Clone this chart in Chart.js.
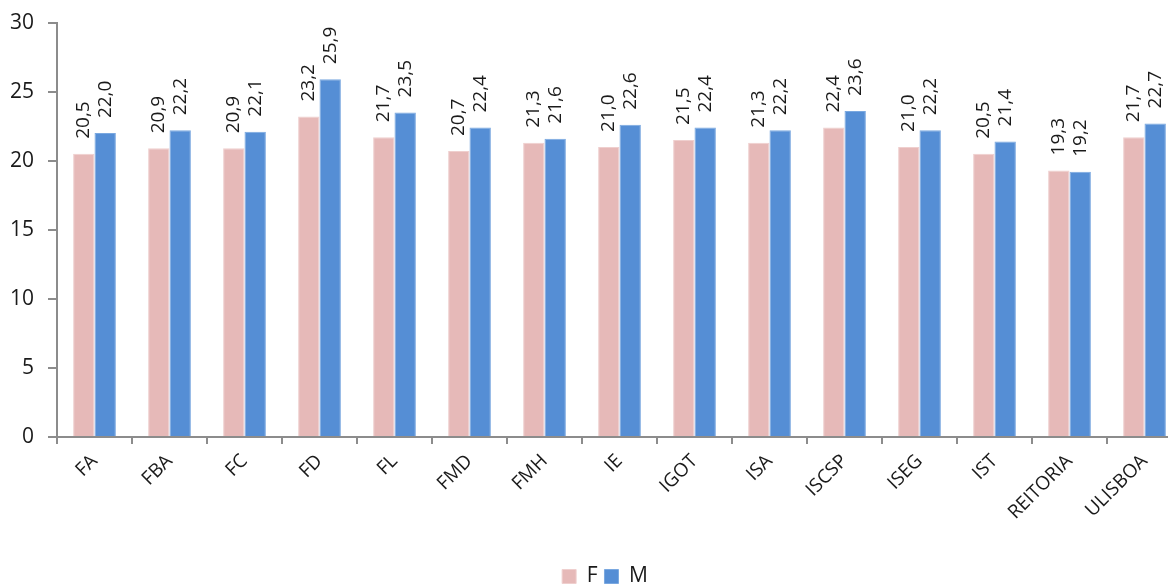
<!DOCTYPE html>
<html>
<head>
<meta charset="utf-8">
<script src="https://cdn.jsdelivr.net/npm/chart.js@4.4.1/dist/chart.umd.min.js"></script>
<style>
  html, body { margin: 0; padding: 0; background: #fff; overflow: hidden; }
  canvas { display: block; margin-top: -4px; }
</style>
</head>
<body>
<canvas id="chart" width="1186" height="601"></canvas>
<script>
// categorias (unidades)
const categories = ['FA', 'FBA', 'FC', 'FD', 'FL', 'FMD', 'FMH', 'IE', 'IGOT', 'ISA', 'ISCSP', 'ISEG', 'IST', 'REITORIA', 'ULISBOA'];
// valores por sexo
const valuesF = [20.5, 20.9, 20.9, 23.2, 21.7, 20.7, 21.3, 21.0, 21.5, 21.3, 22.4, 21.0, 20.5, 19.3, 21.7];
const valuesM = [22.0, 22.2, 22.1, 25.9, 23.5, 22.4, 21.6, 22.6, 22.4, 22.2, 23.6, 22.2, 21.4, 19.2, 22.7];
const yTicks = [0, 5, 10, 15, 20, 25, 30];

const FONT = "'Open Sans', 'Noto Sans', sans-serif";
const TEXT = '#1a1a1a';
const AXIS = '#8c8c8c';

// rótulos de dados verticais por cima das barras
const barLabels = {
  id: 'barLabels',
  afterDatasetsDraw(chart) {
    const ctx = chart.ctx;
    ctx.save();
    ctx.font = '19px ' + FONT;
    ctx.fillStyle = TEXT;
    ctx.textAlign = 'left';
    ctx.textBaseline = 'middle';
    chart.data.datasets.forEach(function(ds, i) {
      chart.getDatasetMeta(i).data.forEach(function(bar, j) {
        const txt = ds.data[j].toFixed(1).replace('.', ',');
        ctx.save();
        ctx.translate(bar.x, bar.y - 15);
        ctx.rotate(-Math.PI / 2);
        ctx.fillText(txt, 0, 0);
        ctx.restore();
      });
    });
    ctx.restore();
  }
};

// legenda um pouco mais à direita, como no original
const shiftLegend = {
  id: 'shiftLegend',
  afterLayout(chart) {
    chart.legend.left += 14;
    chart.legend.right += 14;
  }
};

new Chart(document.getElementById('chart'), {
  type: 'bar',
  data: {
    labels: categories,
    datasets: [
      { label: 'F', data: valuesF, backgroundColor: '#E6B9B8', borderColor: '#EFCFCE', borderWidth: 1 },
      { label: 'M', data: valuesM, backgroundColor: '#558ED5', borderColor: '#7AA8E0', borderWidth: 1 }
    ]
  },
  options: {
    responsive: false,
    animation: false,
    events: [],
    layout: { padding: { top: 13, right: 4, left: 0, bottom: 0 } },
    datasets: { bar: { categoryPercentage: 0.57, barPercentage: 1.0 } },
    plugins: {
      legend: {
        position: 'bottom',
        labels: { font: { family: FONT, size: 21 }, color: TEXT, boxWidth: 14, boxHeight: 14, padding: 7 }
      },
      tooltip: { enabled: false }
    },
    scales: {
      x: {
        grid: { display: true, drawOnChartArea: false, drawTicks: true, tickLength: 7, color: AXIS, lineWidth: 2 },
        border: { color: AXIS, width: 2 },
        ticks: { font: { family: FONT, size: 19 }, color: TEXT, minRotation: 45, maxRotation: 45, padding: 6 },
        afterFit(scale) { scale.height = 122; }
      },
      y: {
        min: 0, max: 30,
        afterBuildTicks(scale) { scale.ticks = yTicks.map(v => ({ value: v })); },
        grid: { display: true, drawOnChartArea: false, drawTicks: true, tickLength: 9, color: AXIS, lineWidth: 2 },
        border: { color: AXIS, width: 2 },
        ticks: { font: { family: FONT, size: 21 }, color: TEXT, padding: 14 },
        afterFit(scale) { scale.width = 57; }
      }
    }
  },
  plugins: [barLabels, shiftLegend]
});
</script>
</body>
</html>
